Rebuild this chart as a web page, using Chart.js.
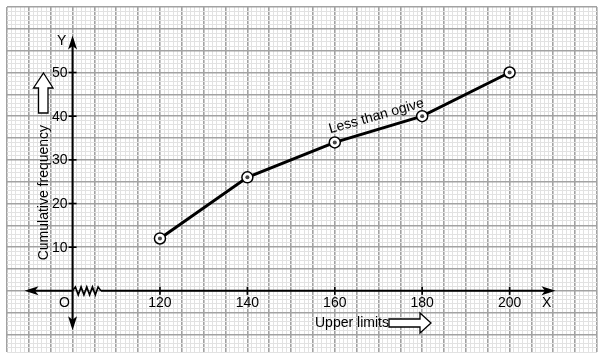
<!DOCTYPE html>
<html>
<head>
<meta charset="utf-8">
<script src="https://cdn.jsdelivr.net/npm/chart.js@4.4.0/dist/chart.umd.min.js"></script>
<style>
  html, body { margin: 0; padding: 0; background: #fff; }
  #wrap { width: 604px; height: 360px; }
</style>
</head>
<body>
<div id="wrap"><canvas id="c" width="604" height="360"></canvas></div>
<script>
// ---- data ----
const upperLimits = [120, 140, 160, 180, 200];
const cumulativeFrequency = [12, 26, 34, 40, 50];
const xTickLabels = ['120', '140', '160', '180', '200'];
const yTickValues = [10, 20, 30, 40, 50];
const yTickLabels = ['10', '20', '30', '40', '50'];

const FONT = '"Liberation Sans", Arial, sans-serif';
const points = upperLimits.map((x, i) => ({ x: x, y: cumulativeFrequency[i] }));

function gridColor(ctx) {
  const v = Math.round(ctx.tick.value);
  return v % 5 === 0 ? '#a2a2a2' : '#e2e2e2';
}
function gridWidth(ctx) {
  const v = Math.round(ctx.tick.value);
  return v % 5 === 0 ? 1.6 : 1;
}

function arrowHead(ctx, x, y, dir, len, half) {
  ctx.save();
  ctx.translate(x, y);
  ctx.rotate(dir);
  ctx.beginPath();
  ctx.moveTo(0, 0);
  ctx.lineTo(-len, -half);
  ctx.lineTo(-len * 0.75, 0);
  ctx.lineTo(-len, half);
  ctx.closePath();
  ctx.fill();
  ctx.restore();
}

const decor = {
  id: 'decor',
  beforeDatasetsDraw(chart) {
    const ctx = chart.ctx;
    const xs = chart.scales.x, ys = chart.scales.y;
    const ox = xs.getPixelForValue(100), oy = ys.getPixelForValue(0);
    ctx.save();
    ctx.strokeStyle = '#000';
    ctx.fillStyle = '#000';
    ctx.lineWidth = 2;
    // x axis
    const xl = xs.getPixelForValue(89), xr = xs.getPixelForValue(210.5);
    ctx.beginPath(); ctx.moveTo(xl + 4, oy); ctx.lineTo(ox, oy); ctx.stroke();
    const zzEnd = xs.getPixelForValue(106.5);
    ctx.beginPath(); ctx.moveTo(zzEnd, oy); ctx.lineTo(xr - 4, oy); ctx.stroke();
    // zigzag
    ctx.lineWidth = 1.6;
    ctx.beginPath();
    ctx.moveTo(ox, oy);
    const n = 10; const step = (zzEnd - ox) / n;
    for (let i = 1; i < n; i++) {
      ctx.lineTo(ox + i * step, oy + (i % 2 ? -4 : 4));
    }
    ctx.lineTo(zzEnd, oy);
    ctx.stroke();
    arrowHead(ctx, xl, oy, Math.PI, 14, 4.5);
    arrowHead(ctx, xr, oy, 0, 14, 4.5);
    // y axis
    ctx.lineWidth = 2;
    const yt = ys.getPixelForValue(58.5), yb = ys.getPixelForValue(-9);
    ctx.beginPath(); ctx.moveTo(ox, yt + 4); ctx.lineTo(ox, yb - 4); ctx.stroke();
    arrowHead(ctx, ox, yt, -Math.PI / 2, 14, 4.5);
    arrowHead(ctx, ox, yb, Math.PI / 2, 14, 4.5);
    // ticks and labels
    ctx.font = '14px ' + FONT;
    ctx.textBaseline = 'middle';
    ctx.lineWidth = 1.6;
    ctx.textAlign = 'right';
    yTickValues.forEach((v, i) => {
      const py = ys.getPixelForValue(v);
      ctx.beginPath(); ctx.moveTo(ox - 4, py); ctx.lineTo(ox + 4, py); ctx.stroke();
      ctx.fillText(yTickLabels[i], ox - 5, py + 0.5);
    });
    ctx.textAlign = 'center';
    upperLimits.forEach((v, i) => {
      const px = xs.getPixelForValue(v);
      ctx.beginPath(); ctx.moveTo(px, oy - 4); ctx.lineTo(px, oy + 4); ctx.stroke();
      ctx.fillText(xTickLabels[i], px, oy + 12);
    });
    ctx.fillText('O', ox - 8, oy + 12);
    ctx.fillText('X', xs.getPixelForValue(208.5), oy + 12);
    ctx.fillText('Y', ox - 11, yt + 6);
    // y title rotated
    ctx.save();
    ctx.translate(44, ys.getPixelForValue(22.5));
    ctx.rotate(-Math.PI / 2);
    ctx.fillText('Cumulative frequency', 0, 0);
    ctx.restore();
    // up outline arrow
    ctx.fillStyle = '#fff';
    ctx.lineWidth = 1.3;
    ctx.beginPath();
    const ax = 43.5, aTop = 73, aMid = 88, aBot = 113;
    ctx.moveTo(ax, aTop);
    ctx.lineTo(ax + 9.5, aMid);
    ctx.lineTo(ax + 4.5, aMid);
    ctx.lineTo(ax + 4.5, aBot);
    ctx.lineTo(ax - 5, aBot);
    ctx.lineTo(ax - 5, aMid);
    ctx.lineTo(ax - 10, aMid);
    ctx.closePath();
    ctx.fill(); ctx.stroke();
    // x title
    ctx.fillStyle = '#000';
    ctx.textAlign = 'left';
    ctx.fillText('Upper limits', 315, 323);
    ctx.fillStyle = '#fff';
    ctx.beginPath();
    const bx = 389, hx = 420, tx = 431, cy = 323;
    ctx.moveTo(bx, cy - 4);
    ctx.lineTo(hx, cy - 4);
    ctx.lineTo(hx, cy - 10);
    ctx.lineTo(tx, cy);
    ctx.lineTo(hx, cy + 10);
    ctx.lineTo(hx, cy + 4);
    ctx.lineTo(bx, cy + 4);
    ctx.closePath();
    ctx.fill(); ctx.stroke();
    ctx.restore();
  },
  afterDatasetsDraw(chart) {
    const ctx = chart.ctx;
    const xs = chart.scales.x, ys = chart.scales.y;
    const x1 = xs.getPixelForValue(upperLimits[2]), y1 = ys.getPixelForValue(cumulativeFrequency[2]);
    const x2 = xs.getPixelForValue(upperLimits[3]), y2 = ys.getPixelForValue(cumulativeFrequency[3]);
    const ang = Math.atan2(y2 - y1, x2 - x1);
    ctx.save();
    ctx.translate((x1 + x2) / 2 - 2, (y1 + y2) / 2 - 13);
    ctx.rotate(ang + 0.015);
    ctx.font = '14px ' + FONT;
    ctx.fillStyle = '#000';
    ctx.textAlign = 'center';
    ctx.textBaseline = 'middle';
    ctx.fillText('Less than ogive', 0, 0);
    ctx.restore();
  }
};

new Chart(document.getElementById('c'), {
  type: 'scatter',
  data: {
    datasets: [
      {
        data: points,
        order: 2,
        showLine: true,
        borderColor: '#000',
        borderWidth: 3,
        pointRadius: 5.5,
        pointBorderWidth: 1.5,
        pointBackgroundColor: '#fff',
        pointBorderColor: '#000',
        tension: 0
      },
      {
        data: points,
        order: 1,
        showLine: false,
        pointRadius: 2,
        pointBorderWidth: 0,
        pointBackgroundColor: '#444'
      }
    ]
  },
  options: {
    responsive: false,
    animation: false,
    events: [],
    layout: { padding: { left: 7, right: 7, top: 7, bottom: 8 } },
    plugins: { legend: { display: false }, tooltip: { enabled: false } },
    scales: {
      x: {
        type: 'linear', min: 85, max: 220,
        ticks: { display: false, stepSize: 1, autoSkip: false, maxTicksLimit: 1000 },
        grid: { color: gridColor, lineWidth: gridWidth, drawTicks: false },
        border: { display: false }
      },
      y: {
        type: 'linear', min: -14, max: 65,
        ticks: { display: false, stepSize: 1, autoSkip: false, maxTicksLimit: 1000 },
        grid: { color: gridColor, lineWidth: gridWidth, drawTicks: false },
        border: { display: false }
      }
    }
  },
  plugins: [decor]
});
</script>
</body>
</html>
